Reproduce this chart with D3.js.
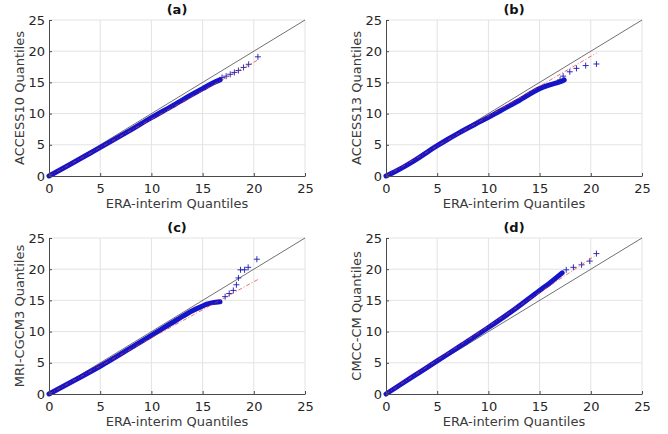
<!DOCTYPE html>
<html>
<head>
<meta charset="utf-8">
<script src="https://cdn.jsdelivr.net/npm/d3@7"></script>
<style>
body{margin:0;background:#fff;}
svg{display:block;}
</style>
</head>
<body>
<div id="chart"></div>
<script>
var titles=["(a)","(b)","(c)","(d)"];
var models=["ACCESS10","ACCESS13","MRI-CGCM3","CMCC-CM"];
var ticks=[0,5,10,15,20,25];

// dense band of each QQ cloud: ERA-interim quantiles vs model quantiles
var eraA=[0,2,4,6,8,10,12,14,15,16,16.7];
var modA=[0,1.8,3.65,5.5,7.4,9.35,11.2,13.1,14,14.9,15.4];
var eraB=[0,1,2,3,4,5,6,7,8,9,10,11,12,13,14,15,16,17,17.4];
var modB=[0,0.8,1.7,2.7,3.8,4.85,5.85,6.8,7.7,8.55,9.4,10.3,11.2,12.1,13.1,14,14.6,15.1,15.4];
var eraC=[0,2.5,5,7.5,10,12.5,14,15,15.5,16,16.7];
var modC=[0,2.2,4.45,6.9,9.4,11.9,13.35,14.1,14.45,14.65,14.8];
var eraD=[0,2.5,5,7.5,10,12.5,15,16,17.2];
var modD=[0,2.65,5.3,7.95,10.65,13.5,16.6,17.8,19.4];

// sparse upper tail (single + markers)
var eraTailA=[16.9,17.3,17.7,18.1,18.5,19,19.5,20.4];
var modTailA=[15.8,16,16.3,16.6,16.9,17.4,17.9,19.1];
var eraTailB=[17,17.3,17.95,18.6,19.5,20.55];
var modTailB=[15.4,16,16.7,17.25,17.7,17.95];
var eraTailC=[17.2,17.6,18,18.3,18.5,18.7,19.1,19.45,20.3];
var modTailC=[15.6,16.1,16.6,17.5,18.6,19.9,19.9,20.3,21.6];
var eraTailD=[17.6,18.3,19.1,19.9,20.55];
var modTailD=[19.9,20.3,20.7,21.3,22.5];

// red dash-dot reference line end points
var refEra=[[0,20.4],[0,20.55],[0,20.4],[0,20.55]];
var refMod=[[0,18.6],[0,19.7],[0,18.35],[0,22.3]];

var bands=[[eraA,modA],[eraB,modB],[eraC,modC],[eraD,modD]];
var tails=[[eraTailA,modTailA],[eraTailB,modTailB],[eraTailC,modTailC],[eraTailD,modTailD]];

var width=668,height=434;
var svg=d3.select("#chart").append("svg")
  .attr("width",width)
  .attr("height",height)
  .style("background-color","#fff")
  .style("font-family","'DejaVu Sans', sans-serif");

var lefts=[49,386,49,386];
var tops=[20,20,238,238];
var pw=256,ph=156;

var zip=function(a,b){
  return a.map(function(v,i){ return [v,b[i]]; });
};

var drawPanel=function(k)
{
  var x=d3.scaleLinear().domain([0,25]).range([lefts[k],lefts[k]+pw]);
  var y=d3.scaleLinear().domain([0,25]).range([tops[k]+ph,tops[k]]);
  var g=svg.append("g");

  // grid
  g.selectAll(".gx").data(ticks.slice(1)).enter().append("line")
   .attr("x1",function(d){ return x(d); }).attr("x2",function(d){ return x(d); })
   .attr("y1",y(0)).attr("y2",y(25))
   .attr("stroke","#e3e3e3").attr("stroke-width",1);
  g.selectAll(".gy").data(ticks.slice(1)).enter().append("line")
   .attr("y1",function(d){ return y(d); }).attr("y2",function(d){ return y(d); })
   .attr("x1",x(0)).attr("x2",x(25))
   .attr("stroke","#e3e3e3").attr("stroke-width",1);

  // 1:1 line
  g.append("line")
   .attr("x1",x(0)).attr("y1",y(0)).attr("x2",x(25)).attr("y2",y(25))
   .attr("stroke","#333").attr("stroke-width",0.7);

  var line=d3.line().x(function(d){ return x(d[0]); }).y(function(d){ return y(d[1]); });
  var smooth=d3.line().curve(d3.curveMonotoneX).x(function(d){ return x(d[0]); }).y(function(d){ return y(d[1]); });

  g.append("path")
   .datum(zip(bands[k][0],bands[k][1]))
   .attr("d",smooth)
   .attr("fill","none")
   .attr("stroke","#1414c8")
   .attr("stroke-width",5)
   .attr("stroke-linejoin","round")
   .attr("stroke-linecap","round");

  g.selectAll(".tail").data(zip(tails[k][0],tails[k][1])).enter().append("path")
   .attr("transform",function(d){ return "translate("+x(d[0])+","+y(d[1])+")"; })
   .attr("d","M-3,0H3M0,-3V3")
   .attr("stroke","#1a1ab4")
   .attr("stroke-width",0.9)
   .attr("fill","none");

  g.append("path")
   .datum(zip(refEra[k],refMod[k]))
   .attr("d",line)
   .attr("fill","none")
   .attr("stroke","#e83030")
   .attr("stroke-width",0.7)
   .attr("stroke-dasharray","4,2,1,2");

  // axes
  var xa=g.append("g").attr("transform","translate(0,"+y(0)+")")
   .call(d3.axisBottom(x).tickValues(ticks).tickSizeInner(-3).tickSizeOuter(0).tickPadding(8));
  var ya=g.append("g").attr("transform","translate("+x(0)+",0)")
   .call(d3.axisLeft(y).tickValues(ticks).tickSizeInner(-3).tickSizeOuter(0).tickPadding(4));
  [xa,ya].forEach(function(a){
    a.attr("font-family","'DejaVu Sans', sans-serif").attr("font-size",13);
    a.select(".domain").attr("stroke","#4a4a4a").attr("stroke-width",1);
    a.selectAll(".tick line").attr("stroke","#4a4a4a");
    a.selectAll(".tick text").attr("fill","#262626");
  });

  g.append("text")
   .text(titles[k])
   .attr("x",(x(0)+x(25))/2)
   .attr("y",tops[k]-6)
   .attr("text-anchor","middle")
   .attr("font-weight","bold")
   .attr("font-size",13)
   .attr("fill","#111");

  g.append("text")
   .text("ERA-interim Quantiles")
   .attr("x",(x(0)+x(25))/2)
   .attr("y",y(0)+32)
   .attr("text-anchor","middle")
   .attr("font-size",13)
   .attr("fill","#3a3a3a");

  g.append("text")
   .text(models[k]+" Quantiles")
   .attr("transform","translate("+(x(0)-25)+","+((y(0)+y(25))/2)+") rotate(-90)")
   .attr("text-anchor","middle")
   .attr("font-size",13)
   .attr("fill","#3a3a3a");
};

for(var k=0;k<4;k++){ drawPanel(k); }
</script>
</body>
</html>
